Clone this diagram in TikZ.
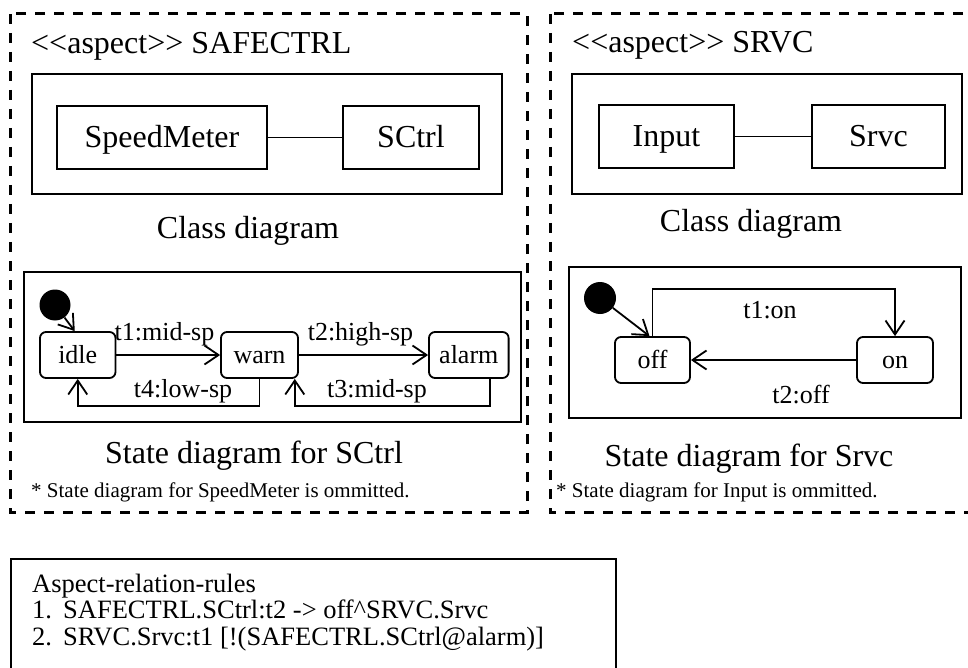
\documentclass[tikz,border=0pt]{standalone}
\usepackage{fontspec}
\setmainfont{Liberation Serif}
\usetikzlibrary{arrows.meta,calc}

\begin{document}
\begin{tikzpicture}[x=1pt,y=-1pt,
  frame/.style={draw, line width=3pt, dash pattern=on 10pt off 9pt},
  panel/.style={draw, line width=2.2pt, inner sep=0pt},
  cls/.style={draw, line width=2.2pt, inner sep=0pt, text height=21pt, text depth=0pt,
    font=\fontsize{32}{38}\selectfont},
  st/.style={draw, line width=1.8pt, rounded corners=6pt, inner sep=0pt,
    text height=17pt, text depth=0pt,
    minimum height=46pt, font=\fontsize{26}{30}\selectfont},
  lbl/.style={inner sep=0pt, anchor=base, font=\fontsize{26}{30}\selectfont},
  big/.style={inner sep=0pt, font=\fontsize{32}{38}\selectfont},
  caption/.style={inner sep=0pt, anchor=base, font=\fontsize{32}{38}\selectfont},
  note/.style={inner sep=0pt, anchor=base west, font=\fontsize{21}{25}\selectfont},
  rule/.style={inner sep=0pt, anchor=base west, font=\fontsize{26.5}{32}\selectfont},
  trans/.style={line width=1.8pt, -{Straight Barb[length=14pt,width=19pt]}},
  dot/.style={circle, fill, inner sep=0pt, minimum size=31pt}
]
\useasboundingbox (0,0) rectangle (968,668);
\clip (0,0) rectangle (968,668);

% aspect frames
\draw[frame] (10,14) rectangle (527,512);
\draw[frame] (550,14) rectangle (990,512);

% ---------- aspect SAFECTRL ----------
\node[big, anchor=base west] (titleL) at (31,54) {<\kern0pt<aspect>\kern0pt> SAFECTRL};

\node[panel, minimum width=470pt, minimum height=120pt] (cdL) at (267,134) {};
\node[cls, minimum width=210pt, minimum height=63pt] (speed) at (162,137.5) {SpeedMeter};
\node[cls, minimum width=136pt, minimum height=63pt] (sctrl) at (411,137.5) {SCtrl};
\draw[line width=1.8pt] (speed) -- (sctrl);
\node[big, anchor=base] (capcL) at (248,239) {Class diagram};

\node[panel, minimum width=497pt, minimum height=150pt] (sdL) at (272.5,347) {};
\node[dot] (initL) at (55,305) {};
\node[st, minimum width=75.5pt] (idle) at (77.75,355) {idle};
\node[st, minimum width=77pt] (warn) at (259.5,355) {warn};
\node[st, minimum width=79.6pt] (alarm) at (468.8,355) {alarm};

\draw[trans] (initL) -- ([xshift=-3pt]idle.north);
\draw[trans] (idle) -- (warn);
\draw[trans] (warn) -- (alarm);
\draw[trans] (warn.south) -- ++(0,27) -| (idle.south);
\draw[trans] ([xshift=21pt]alarm.south) -- ++(0,27) -| ([xshift=35.3pt]warn.south);

\node[lbl] (lt1) at (164.5,340) {t1:mid-sp};
\node[lbl] (lt2) at (360.5,340) {t2:high-sp};
\node[lbl] (lt4) at (183,397) {t4:low-sp};
\node[lbl] (lt3) at (377,397) {t3:mid-sp};

\node[caption] (capsL) at (254,463) {State diagram for SCtrl};
\node[note] (noteL) at (31,497) {* State diagram for SpeedMeter is ommitted.};

% ---------- aspect SRVC ----------
\node[big, anchor=base west] (titleR) at (572,53) {<\kern0pt<aspect>\kern0pt> SRVC};

\node[panel, minimum width=390pt, minimum height=120pt] (cdR) at (767,134) {};
\node[cls, minimum width=135pt, minimum height=63pt] (input) at (666.5,136.5) {Input};
\node[cls, minimum width=133pt, minimum height=63pt] (srvc) at (878.5,136.5) {Srvc};
\draw[line width=1.8pt] (input) -- (srvc);
\node[big, anchor=base] (capcR) at (751,232) {Class diagram};

\node[panel, minimum width=392pt, minimum height=151pt] (sdR) at (765,342.5) {};
\node[dot, minimum size=32pt] (initR) at (600,298) {};
\node[st, minimum width=75pt] (off) at (652.5,360) {off};
\node[st, minimum width=76pt] (on) at (895,360) {on};

\draw[trans] (initR) -- ([xshift=-3pt]off.north);
\draw[trans] (off.north) -- ++(0,-47) -| (on.north);
\draw[trans] (on) -- (off);

\node[lbl] (rt1) at (770,318) {t1:on};
\node[lbl] (rt2) at (801,403) {t2:off};

\node[caption] (capsR) at (749,466) {State diagram for Srvc};
\node[note] (noteR) at (556,497) {* State diagram for Input is ommitted.};

% ---------- relation rules ----------
\node[panel, anchor=north west, minimum width=605pt, minimum height=150pt] (rules) at (10,558) {};
\node[rule] (rhead) at (32,592) {Aspect-relation-rules};
\node[rule] (rn1) at (32,618) {1.};
\node[rule] (r1) at (63,618) {SAFECTRL.SCtrl:t2 -> off\textasciicircum SRVC.Srvc};
\node[rule] (rn2) at (32,645) {2.};
\node[rule] (r2) at (63,645) {SRVC.Srvc:t1 [!(SAFECTRL.SCtrl@alarm)]};
\end{tikzpicture}
\end{document}
